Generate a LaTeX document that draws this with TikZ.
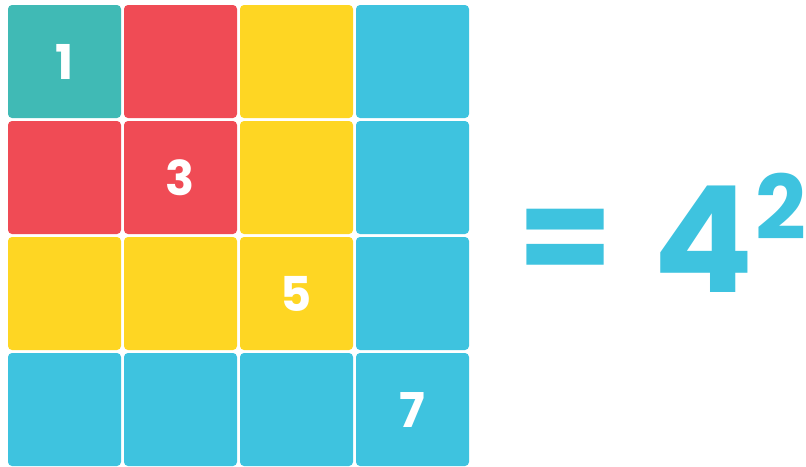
\documentclass[tikz,border=0pt]{standalone}
\usepackage{fontspec}
\setmainfont{Poppins}[BoldFont={* Bold}]
\definecolor{cteal}{RGB}{64,186,181}
\definecolor{cred}{RGB}{240,75,85}
\definecolor{cyel}{RGB}{254,214,35}
\definecolor{cblue}{RGB}{62,195,223}
\begin{document}
\begin{tikzpicture}[x=1pt,y=-1pt,
  sq/.style={rectangle,rounded corners=4pt,minimum size=113pt,inner sep=0pt,text=white,font=\fontsize{48}{48}\selectfont\bfseries},
  big/.style={text=cblue,inner sep=0pt,font=\bfseries}]
\useasboundingbox (0,0) rectangle (806,466);
% rows
\node[sq,fill=cteal] (s11) at (64.5,61.5) {1};
\node[sq,fill=cred]  (s12) at (180.5,61.5) {};
\node[sq,fill=cyel]  (s13) at (296.5,61.5) {};
\node[sq,fill=cblue] (s14) at (412.5,61.5) {};
\node[sq,fill=cred]  (s21) at (64.5,177.5) {};
\node[sq,fill=cred]  (s22) at (180.5,177.5) {3};
\node[sq,fill=cyel]  (s23) at (296.5,177.5) {};
\node[sq,fill=cblue] (s24) at (412.5,177.5) {};
\node[sq,fill=cyel]  (s31) at (64.5,293.5) {};
\node[sq,fill=cyel]  (s32) at (180.5,293.5) {};
\node[sq,fill=cyel]  (s33) at (296.5,293.5) {5};
\node[sq,fill=cblue] (s34) at (412.5,293.5) {};
\node[sq,fill=cblue] (s41) at (64.5,409.5) {};
\node[sq,fill=cblue] (s42) at (180.5,409.5) {};
\node[sq,fill=cblue] (s43) at (296.5,409.5) {};
\node[sq,fill=cblue] (s44) at (412.5,409.5) {7};
\node[big,font=\fontsize{138}{138}\selectfont\bfseries] (eq) at (566,247) {=};
\node[big,anchor=base,font=\fontsize{148}{148}\selectfont\bfseries] (four) at (704,292) {4};
\node[big,anchor=base,font=\fontsize{89}{89}\selectfont\bfseries] (two) at (781,239) {2};
\end{tikzpicture}
\end{document}
